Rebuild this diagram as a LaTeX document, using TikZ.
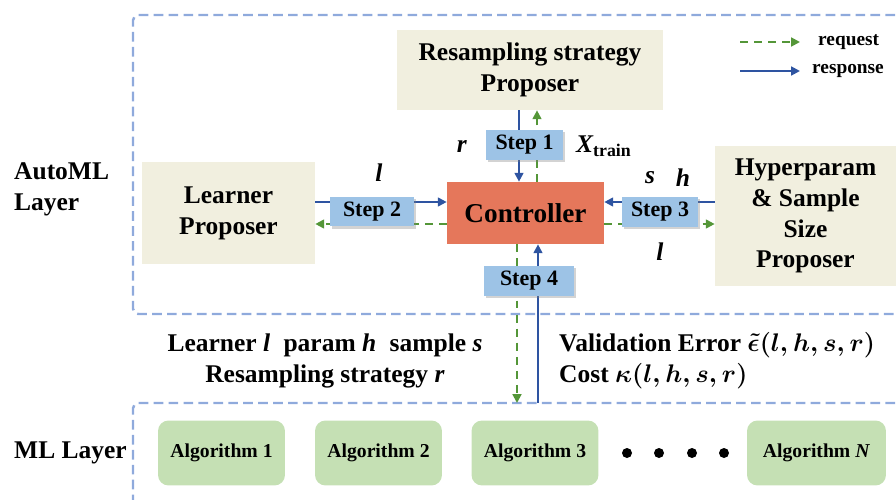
\RequirePackage{fix-cm}
\documentclass[tikz,border=0pt]{standalone}
\usepackage{amsmath}
\usepackage{fontspec}
\setmainfont{Liberation Serif}
\usepackage{xcolor}
\usetikzlibrary{arrows.meta, positioning, shadows}

\definecolor{framecol}{HTML}{8FAADC}
\definecolor{beige}{HTML}{F1EFDF}
\definecolor{ctrlcol}{HTML}{E5775B}
\definecolor{stepcol}{HTML}{9DC3E6}
\definecolor{algcol}{HTML}{C5E0B4}
\definecolor{reqcol}{HTML}{549638}
\definecolor{respcol}{HTML}{2E54A1}

\tikzset{
  frame/.style={framecol, line width=1.4pt, dash pattern=on 5.5pt off 3pt, rounded corners=3pt},
  proposer/.style={fill=beige, inner sep=0pt, align=center},
  ctrlbox/.style={fill=ctrlcol, inner sep=0pt, minimum width=3.14cm, minimum height=1.24cm},
  stepbox/.style={fill=stepcol, inner sep=0pt, minimum height=0.6cm, font=\bfseries\fontsize{12.5}{15}\selectfont,
    drop shadow={shadow xshift=1.2pt, shadow yshift=-1.2pt, opacity=0.35, fill=gray}},
  algbox/.style={fill=algcol, rounded corners=6pt, inner sep=0pt, minimum width=2.54cm, minimum height=1.3cm,
    font=\bfseries\fontsize{11.2}{13}\selectfont},
  req/.style={reqcol, line width=1.1pt, dash pattern=on 4.5pt off 3.5pt, -{Triangle[length=5pt,width=5pt]}},
  resp/.style={respcol, line width=1.1pt, -{Triangle[length=5pt,width=5pt]}},
}

\begin{document}
\begin{tikzpicture}[x=0.02cm, y=-0.02cm, font=\bfseries\fontsize{14.5}{17.5}\selectfont]
  \useasboundingbox (0,0) rectangle (896,500);

  % layer frames
  \draw[frame] (910,15) -- (133,15) -- (133,314) -- (910,314);
  \draw[frame] (910,403) -- (133,403) -- (133,520);
  \node[anchor=west, align=left] (automl) at (8,189) {AutoML\\Layer};
  \node[anchor=west] (mllayer) at (8,453) {ML Layer};

  % legend
  \coordinate (reqa) at (740,42);
  \coordinate (reqb) at (800,42);
  \coordinate (respa) at (740,71);
  \coordinate (respb) at (800,71);
  \draw[req] (reqa) -- (reqb);
  \draw[resp] (respa) -- (respb);
  \node[anchor=west, font=\bfseries\fontsize{11}{13}\selectfont] (reqtxt) at (812,42) {request};
  \node[anchor=west, font=\bfseries\fontsize{11}{13}\selectfont] (resptxt) at (806,71) {response};

  % proposers and controller
  \node[proposer, minimum width=5.32cm, minimum height=1.6cm] (resamp) at (530,70) {Resampling strategy\\Proposer};
  \node[proposer, minimum width=3.46cm, minimum height=2.06cm] (learner) at (228.5,213) {Learner\\Proposer};
  \node[proposer, minimum width=3.62cm, minimum height=2.8cm] (hyper) at (805.5,216) {Hyperparam\\\& Sample\\Size\\Proposer};
  \node[ctrlbox] (ctrl) at (525.5,213) {\fontsize{15.5}{18}\selectfont Controller};

  % requests and responses
  \draw[resp] (resamp.south -| 519,0) -- (ctrl.north -| 519,0);
  \draw[req] (ctrl.north -| 537,0) -- (resamp.south -| 537,0);
  \draw[resp] (learner.east |- 0,202) -- (ctrl.west |- 0,202);
  \draw[req] (ctrl.west |- 0,224) -- (learner.east |- 0,224);
  \draw[resp] (hyper.west |- 0,202) -- (ctrl.east |- 0,202);
  \draw[req] (ctrl.east |- 0,224) -- (hyper.west |- 0,224);
  \coordinate (mlreq) at (517,403);
  \coordinate (mlresp) at (538,403);
  \draw[req] (ctrl.south -| mlreq) -- (mlreq);
  \draw[resp] (mlresp) -- (ctrl.south -| mlresp);

  % steps
  \node[stepbox, minimum width=1.54cm] (step1) at (524.5,145) {Step 1};
  \node[stepbox, minimum width=1.68cm] (step2) at (372,211.5) {Step 2};
  \node[stepbox, minimum width=1.52cm] (step3) at (660,212) {Step 3};
  \node[stepbox, minimum width=1.8cm] (step4) at (529,281) {Step 4};

  % labels
  \node (lr) at (462,146) {\textit{r}};
  \node[anchor=west] (lx) at (570,146) {$\textit{X}_{\text{train}}$};
  \node (ll) at (379,173) {\textit{l}};
  \node (ls) at (650,178) {\textit{s}};
  \node (lh) at (683,178) {\textit{h}};
  \node (ll2) at (660,252) {\textit{l}};
  \node[align=center] (sendtxt) at (325,361) {Learner \textit{l}\; param \textit{h}\; sample \textit{s}\\Resampling strategy \textit{r}};
  \node[anchor=west, align=left, font=\bfseries\boldmath\fontsize{14.5}{17.5}\selectfont] (backtxt) at (553,361)
    {Validation Error $\tilde{\epsilon}(l,h,s,r)$\\Cost $\kappa(l,h,s,r)$};

  % algorithms
  \node[algbox] (alg1) at (221.5,453) {Algorithm 1};
  \node[algbox] (alg2) at (378.5,453) {Algorithm 2};
  \node[algbox] (alg3) at (535,453) {Algorithm 3};
  \node[algbox, minimum width=2.78cm] (algN) at (816.5,453) {Algorithm \textit{N}};
  \foreach \x in {627,659,692,724} \fill (\x,453) circle (5);
\end{tikzpicture}
\end{document}
